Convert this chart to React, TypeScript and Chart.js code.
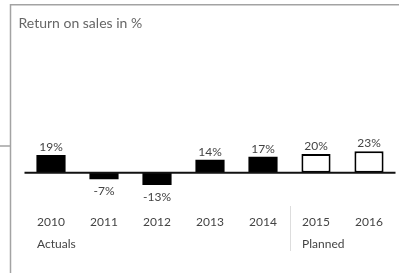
import React, { useEffect, useRef } from "react";
import { Chart, registerables } from "chart.js";

Chart.register(...registerables);

const years = ["2010", "2011", "2012", "2013", "2014", "2015", "2016"];
const returnOnSales = [19, -7, -13, 14, 17, 20, 23];
const isPlanned = [false, false, false, false, false, true, true];
const groupLabels = ["Actuals", "Planned"];
const groupStarts = [0, 5];
const titleText = "Return on sales in %";

const framePlugin = {
  id: "frame",
  beforeDraw(chart: any) {
    const ctx = chart.ctx;
    ctx.save();
    ctx.strokeStyle = "#a3a3a3";
    ctx.lineWidth = 1.5;
    ctx.beginPath();
    ctx.moveTo(10.5, 273);
    ctx.lineTo(10.5, 4.8);
    ctx.lineTo(399, 4.8);
    ctx.moveTo(0, 146);
    ctx.lineTo(10.5, 146);
    ctx.stroke();
    ctx.restore();
  },
};

const decorPlugin = {
  id: "decor",
  afterDatasetsDraw(chart: any) {
    const ctx = chart.ctx;
    const xs = chart.scales.x;
    const ys = chart.scales.y;
    const area = chart.chartArea;
    ctx.save();
    const y0 = ys.getPixelForValue(0);
    ctx.strokeStyle = "#111";
    ctx.lineWidth = 2;
    ctx.beginPath();
    ctx.moveTo(area.left, y0);
    ctx.lineTo(area.right, y0);
    ctx.stroke();
    ctx.font = "12px Lato";
    ctx.fillStyle = "#444";
    ctx.textAlign = "center";
    const meta = chart.getDatasetMeta(0);
    meta.data.forEach((bar: any, i: number) => {
      const v = returnOnSales[i];
      if (v >= 0) {
        ctx.textBaseline = "bottom";
        ctx.fillText(v + "%", bar.x, bar.y - 2);
      } else {
        ctx.textBaseline = "top";
        ctx.fillText(v + "%", bar.x, bar.y + 6);
      }
    });
    ctx.textAlign = "left";
    ctx.textBaseline = "middle";
    groupStarts.forEach((start, g) => {
      const px = xs.getPixelForValue(start);
      const w = ctx.measureText(years[start]).width;
      ctx.fillStyle = "#444";
      ctx.fillText(groupLabels[g], px - w / 2, 244);
      if (start > 0) {
        const sx = (xs.getPixelForValue(start - 1) + px) / 2;
        ctx.strokeStyle = "#dddddd";
        ctx.lineWidth = 1;
        ctx.beginPath();
        ctx.moveTo(Math.round(sx) + 0.5, 206);
        ctx.lineTo(Math.round(sx) + 0.5, 251);
        ctx.stroke();
      }
    });
    ctx.restore();
  },
};

export default function App() {
  const ref = useRef<HTMLCanvasElement>(null);
  useEffect(() => {
    if (!ref.current) return;
    Chart.defaults.font.family = "Lato";
    const chart = new Chart(ref.current, {
      type: "bar",
      data: {
        labels: years,
        datasets: [
          {
            data: returnOnSales,
            backgroundColor: isPlanned.map((p) => (p ? "#ffffff" : "#000000")),
            borderColor: "#000000",
            borderWidth: isPlanned.map((p) => (p ? 2 : 0)),
            borderSkipped: false,
            categoryPercentage: 1,
            barPercentage: 0.55,
          },
        ],
      },
      options: {
        animation: false,
        responsive: false,
        layout: { padding: { top: 0, left: 18.5, right: 3.5, bottom: 34 } },
        plugins: {
          legend: { display: false },
          tooltip: { enabled: false },
          title: {
            display: true,
            text: titleText,
            align: "start",
            color: "#666",
            font: { size: 14, weight: "normal", family: "Lato" },
            padding: { top: 15, bottom: 9 },
          },
        },
        scales: {
          x: {
            grid: { display: false, drawTicks: false },
            border: { display: false },
            ticks: { color: "#444", font: { size: 12 }, padding: 10 },
          },
          y: {
            min: -34,
            max: 141,
            display: true,
            grid: { display: false, drawTicks: false },
            border: { display: false },
            ticks: { display: false },
            afterFit: (s: any) => {
              s.width = 6;
            },
          },
        },
      },
      plugins: [framePlugin, decorPlugin],
    });
    return () => chart.destroy();
  }, []);
  return (
    <div style={{ position: "fixed", left: 0, top: 0, width: 399, height: 273, background: "#fff" }}>
      <canvas ref={ref} width={399} height={273} />
    </div>
  );
}
